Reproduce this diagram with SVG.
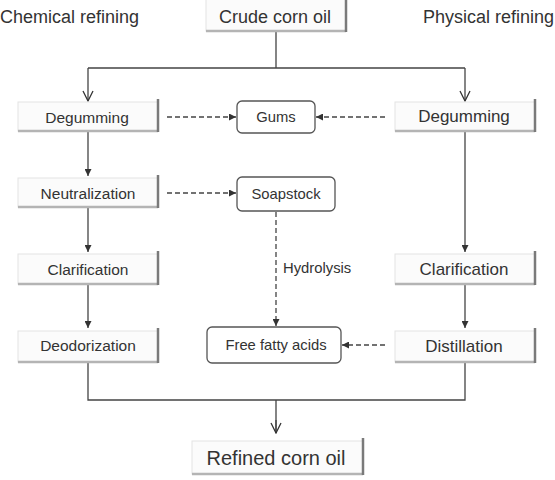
<svg xmlns="http://www.w3.org/2000/svg" width="555" height="480" viewBox="0 0 555 480">
<style>
text{font-family:"Liberation Sans",Arial,sans-serif;fill:#333;text-anchor:middle;dominant-baseline:central}
.bf{fill:#fbfbfb;stroke:#e4e4e4;stroke-width:1}
.bs{stroke:#b4b4b4;stroke-width:2.5;fill:none}
.br{stroke:#7a7a7a;stroke-width:2.5;fill:none}
.rr{fill:#fff;stroke:#555;stroke-width:1.3}
.ln{stroke:#444;stroke-width:1.3;fill:none}
.ds{stroke:#444;stroke-width:1.3;fill:none;stroke-dasharray:5 3}
.l{font-size:15.5px}
.r{font-size:17px}
.m{font-size:14.8px}
.h{font-size:18px}
</style>
<defs>
<marker id="fa" viewBox="0 0 10 10" refX="10" refY="5" markerWidth="7" markerHeight="7" markerUnits="userSpaceOnUse" orient="auto"><path d="M0,0L10,5L0,10z" fill="#333"/></marker>
<marker id="oa" viewBox="0 0 12 12" refX="11" refY="6" markerWidth="12" markerHeight="12" markerUnits="userSpaceOnUse" orient="auto"><path d="M1,1L11,6L1,11" fill="none" stroke="#333" stroke-width="1.3"/></marker>
</defs>
<text x="0" y="17" class="h" style="text-anchor:start">Chemical refining</text>
<text x="554" y="17" class="h" style="text-anchor:end">Physical refining</text>
<g id="connectors">
<path class="ln" d="M276,31V68M88,68H465" />
<path class="ln" d="M88,68V101" marker-end="url(#oa)"/>
<path class="ln" d="M465,68V101" marker-end="url(#oa)"/>
<path class="ln" d="M88,132V176" marker-end="url(#fa)"/>
<path class="ln" d="M88,208V252" marker-end="url(#fa)"/>
<path class="ln" d="M88,285V328" marker-end="url(#fa)"/>
<path class="ln" d="M465,132V252" marker-end="url(#fa)"/>
<path class="ln" d="M465,285V328" marker-end="url(#fa)"/>
<path class="ds" d="M167,117H236" marker-end="url(#fa)"/>
<path class="ds" d="M385,117H316" marker-end="url(#fa)"/>
<path class="ds" d="M167,193H236" marker-end="url(#fa)"/>
<path class="ds" d="M276,212V326" marker-end="url(#fa)"/>
<path class="ds" d="M385,345H342" marker-end="url(#fa)"/>
<path class="ln" d="M88,363V400H465V363M276,400V433" />
<path class="ln" d="M276,420V433" marker-end="url(#oa)"/>
<text x="283" y="268" class="m" style="text-anchor:start">Hydrolysis</text>
</g>
<g id="crude">
<rect class="bf" x="206" y="-1" width="140" height="32"/>
<path class="bs" d="M206,31H346"/><path class="br" d="M346,-1V32"/>
<text x="275" y="17" class="h">Crude corn oil</text>
</g>
<g id="degum-l">
<rect class="bf" x="18" y="102" width="140" height="29"/>
<path class="bs" d="M18,131H158"/><path class="br" d="M158,99V132"/>
<text x="87" y="117" class="l">Degumming</text>
</g>
<g id="gums">
<rect class="rr" x="237" y="101" width="78" height="32" rx="5"/>
<text x="276" y="117" class="m">Gums</text>
</g>
<g id="degum-r">
<rect class="bf" x="395" y="102" width="140" height="29"/>
<path class="bs" d="M395,131H535"/><path class="br" d="M535,99V132"/>
<text x="464" y="116" class="r">Degumming</text>
</g>
<g id="neutral">
<rect class="bf" x="18" y="178" width="140" height="29"/>
<path class="bs" d="M18,207H158"/><path class="br" d="M158,175V208"/>
<text x="88" y="193" class="l">Neutralization</text>
</g>
<g id="soap">
<rect class="rr" x="237" y="177" width="98" height="34" rx="5"/>
<text x="286" y="194" class="m">Soapstock</text>
</g>
<g id="clar-l">
<rect class="bf" x="18" y="254" width="140" height="30"/>
<path class="bs" d="M18,284H158"/><path class="br" d="M158,251V285"/>
<text x="88" y="269" class="l">Clarification</text>
</g>
<g id="clar-r">
<rect class="bf" x="395" y="254" width="140" height="30"/>
<path class="bs" d="M395,284H535"/><path class="br" d="M535,251V285"/>
<text x="464" y="269" class="r">Clarification</text>
</g>
<g id="deodor">
<rect class="bf" x="18" y="331" width="140" height="31"/>
<path class="bs" d="M18,362H158"/><path class="br" d="M158,328V363"/>
<text x="88" y="345" class="l">Deodorization</text>
</g>
<g id="ffa">
<rect class="rr" x="207" y="327" width="134" height="36" rx="5"/>
<text x="276" y="345" class="m">Free fatty acids</text>
</g>
<g id="distil">
<rect class="bf" x="395" y="331" width="140" height="31"/>
<path class="bs" d="M395,362H535"/><path class="br" d="M535,328V363"/>
<text x="464" y="346" class="r">Distillation</text>
</g>
<g id="refined">
<rect class="bf" x="192" y="441" width="171" height="33"/>
<path class="bs" d="M192,474H363"/><path class="br" d="M363,438V475"/>
<text x="276" y="458" style="font-size:20px">Refined corn oil</text>
</g>
</svg>
